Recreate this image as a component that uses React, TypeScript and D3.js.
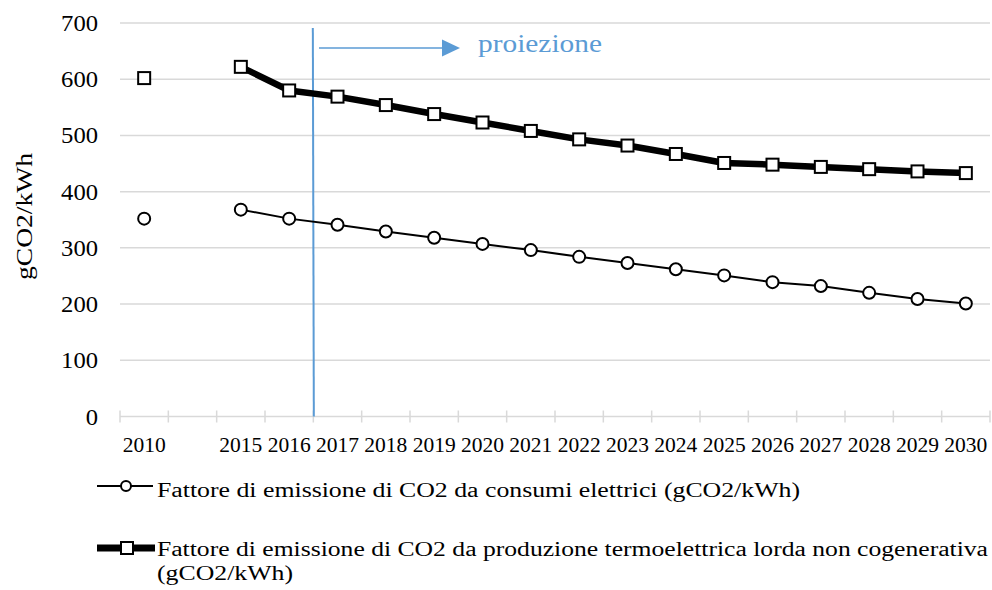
import React from "react";
import * as d3 from "d3";

const categories = ["2010", "", "2015", "2016", "2017", "2018", "2019", "2020", "2021", "2022", "2023", "2024", "2025", "2026", "2027", "2028", "2029", "2030"];
const consumi: (number | null)[] = [352, null, 368, 352, 341, 329, 318, 307, 296, 284, 273, 262, 251, 239, 232, 220, 209, 201];
const termo: (number | null)[] = [602, null, 622, 580, 569, 554, 538, 523, 508, 493, 482, 467, 451, 448, 444, 440, 436, 433];
const yTicks = [0, 100, 200, 300, 400, 500, 600, 700];
const legend1 = "Fattore di emissione di CO2 da consumi elettrici (gCO2/kWh)";
const legend2a = "Fattore di emissione di CO2 da produzione termoelettrica lorda non cogenerativa";
const legend2b = "(gCO2/kWh)";
const yLabel = "gCO2/kWh";
const projLabel = "proiezione";
const projStart = "2017";

const W = 992, H = 590;
const FONT = "Liberation Serif, Tinos, Times New Roman, DejaVu Serif, serif";
const BLUE = "#5b9bd5";

export default function App() {
  const x = d3.scaleBand<string>().domain(categories.map((c, i) => c + "|" + i)).range([120, 990]).padding(0);
  const key = (i: number) => categories[i] + "|" + i;
  const cx = (i: number) => (x(key(i)) as number) + x.bandwidth() / 2;
  const y = d3.scaleLinear().domain([0, 700]).range([416.5, 23]);

  const segPath = (vals: (number | null)[]) => {
    const pts: [number, number][][] = [];
    let cur: [number, number][] = [];
    vals.forEach((v, i) => {
      if (v === null) { if (cur.length) pts.push(cur); cur = []; }
      else cur.push([cx(i), y(v)]);
    });
    if (cur.length) pts.push(cur);
    const lg = d3.line();
    return pts.filter((p) => p.length > 1).map((p) => lg(p) as string);
  };

  const boundaries = d3.range(categories.length + 1).map((i) => 120 + i * x.bandwidth());
  const projIdx = categories.indexOf(projStart);
  const vx = x(key(projIdx)) as number;
  const ts = { fontFamily: FONT };

  return (
    <svg width={W} height={H} style={{ display: "block", position: "absolute", left: 0, top: 0, background: "#fff", fontFamily: FONT }}>
      <rect width={W} height={H} fill="#fff" />
      {yTicks.filter((t) => t > 0).map((t) => (
        <line key={t} x1={120} x2={990} y1={y(t)} y2={y(t)} stroke="#d9d9d9" strokeWidth={1.5} />
      ))}
      <line x1={120} x2={990} y1={y(0)} y2={y(0)} stroke="#d9d9d9" strokeWidth={1.5} />
      {boundaries.map((bx, i) => (
        <line key={i} x1={bx} x2={bx} y1={y(0) - 6} y2={y(0) + 6} stroke="#d9d9d9" strokeWidth={1.5} />
      ))}
      {yTicks.map((t) => (
        <text key={t} style={ts} x={98} y={y(t) + 8} textAnchor="end" fontSize={23} fill="#000"
          textLength={String(t).length * 12.3} lengthAdjust="spacingAndGlyphs">{t}</text>
      ))}
      {categories.map((c, i) => c ? (
        <text key={i} style={ts} x={cx(i)} y={451.5} textAnchor="middle" fontSize={21.5} fill="#000" textLength={43} lengthAdjust="spacingAndGlyphs">{c}</text>
      ) : null)}
      <text style={ts} transform={`translate(32,216.5) rotate(-90)`} textAnchor="middle" fontSize={23} fill="#000" textLength={127} lengthAdjust="spacingAndGlyphs">{yLabel}</text>

      <line x1={vx - 0.5} x2={vx + 0.5} y1={28} y2={y(0)} stroke={BLUE} strokeWidth={2} />
      <line x1={319} x2={444} y1={48} y2={48} stroke={BLUE} strokeWidth={1.5} />
      <path d="M442,39.5 L460,48 L442,56.5 Z" fill={BLUE} />
      <text style={ts} x={478} y={52} fontSize={25} fill={BLUE} textLength={124} lengthAdjust="spacingAndGlyphs">{projLabel}</text>

      {segPath(consumi).map((d, i) => (
        <path key={i} d={d} fill="none" stroke="#000" strokeWidth={2} />
      ))}
      {consumi.map((v, i) => v === null ? null : (
        <circle key={i} cx={cx(i)} cy={y(v)} r={6} fill="#fff" stroke="#000" strokeWidth={2} />
      ))}
      {segPath(termo).map((d, i) => (
        <path key={i} d={d} fill="none" stroke="#000" strokeWidth={6.5} strokeLinejoin="round" />
      ))}
      {termo.map((v, i) => v === null ? null : (
        <rect key={i} x={cx(i) - 6} y={y(v) - 6} width={12} height={12} fill="#fff" stroke="#000" strokeWidth={2} />
      ))}

      <line x1={97} x2={153} y1={486} y2={486} stroke="#000" strokeWidth={2} />
      <circle cx={126} cy={486} r={5} fill="#fff" stroke="#000" strokeWidth={2} />
      <text style={ts} x={157} y={497} fontSize={20} fill="#000" textLength={643} lengthAdjust="spacingAndGlyphs">{legend1}</text>

      <line x1={97} x2={155} y1={548} y2={548} stroke="#000" strokeWidth={7} />
      <rect x={121} y={542} width={12} height={12} fill="#fff" stroke="#000" strokeWidth={2} />
      <text style={ts} x={157} y={555.5} fontSize={20} fill="#000" textLength={831} lengthAdjust="spacingAndGlyphs">{legend2a}</text>
      <text style={ts} x={157} y={580} fontSize={20} fill="#000" textLength={136} lengthAdjust="spacingAndGlyphs">{legend2b}</text>
    </svg>
  );
}
